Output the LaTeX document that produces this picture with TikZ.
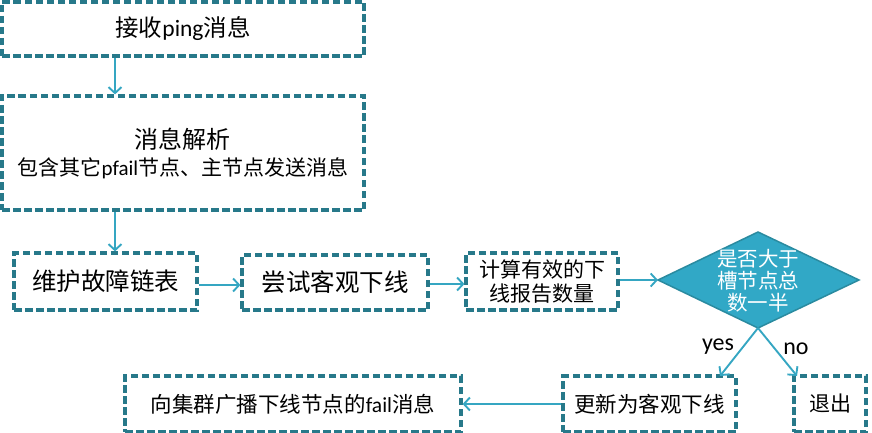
\documentclass[tikz,border=0pt]{standalone}
\usepackage{fontspec}
\setmainfont{Carlito}
\newfontfamily\cjk{Noto Sans CJK SC}
\usetikzlibrary{arrows.meta}
\definecolor{bord}{HTML}{27798A}
\definecolor{arr}{HTML}{35A6C2}
\definecolor{dfill}{HTML}{31A8C6}
\definecolor{dbord}{HTML}{2A8BA0}
\begin{document}
\begin{tikzpicture}[x=1pt,y=-1pt,
  box/.style={draw=bord, line width=3.2pt, dash pattern=on 7.5pt off 3.5pt, inner sep=0pt, align=center, text=black},
  conn/.style={draw=arr, line width=1.9pt, -{Straight Barb[length=6pt,width=13pt,line width=1.9pt]}},
  lab/.style={font=\fontsize{24}{26}\selectfont, text=black}]
\useasboundingbox (0,0) rectangle (872,433);

\node[box, font=\fontsize{23.5}{26}\selectfont, minimum width=362pt, minimum height=54pt] (b1) at (183,29) {{\cjk 接收}ping{\cjk 消息}};
\node[box, font=\fontsize{21}{27}\selectfont, minimum width=362pt, minimum height=114pt] (b2) at (183,153)
  {{\fontsize{24}{27}\selectfont\cjk 消息解析}\\{\cjk 包含其它}pfail{\cjk 节点、主节点发送消息}};
\node[box, font=\fontsize{24.5}{26}\selectfont, minimum width=183pt, minimum height=57pt] (b3) at (105.5,281.5) {\cjk 维护故障链表};
\node[box, font=\fontsize{24.5}{26}\selectfont, minimum width=186pt, minimum height=55pt] (b4) at (335,282.5) {\cjk 尝试客观下线};
\node[box, font=\fontsize{21}{24}\selectfont, minimum width=152pt, minimum height=57pt] (b5) at (542,281.5) {\cjk 计算有效的下\\\cjk 线报告数量};

\coordinate (dl) at (658,280);
\coordinate (dt) at (758,232);
\coordinate (dr) at (859,280);
\coordinate (db) at (758,328);
\draw[fill=dfill, draw=dbord, line width=1.5pt, line join=miter] (dl) -- (dt) -- (dr) -- (db) -- cycle;
\node[align=center, text=white, font=\fontsize{20.5}{22}\selectfont] (dtext) at (758,281) {\cjk 是否大于\\\cjk 槽节点总\\\cjk 数一半};

\node[box, font=\fontsize{21.5}{24}\selectfont, minimum width=173pt, minimum height=56pt] (b6) at (649.5,404) {\cjk 更新为客观下线};
\node[box, font=\fontsize{21}{24}\selectfont, minimum width=72pt, minimum height=56pt] (b7) at (830,404) {\cjk 退出};
\node[box, font=\fontsize{21.5}{24}\selectfont, minimum width=336pt, minimum height=56pt] (b8) at (293,404) {{\cjk 向集群广播下线节点的}fail{\cjk 消息}};

\draw[conn] (b1.south -| 115,0) -- (b2.north -| 115,0);
\draw[conn] (b2.south -| 115,0) -- (b3.north -| 115,0);
\draw[conn] (b3.east |- 0,285) -- (b4.west |- 0,285);
\draw[conn] (b4.east |- 0,284) -- (b5.west |- 0,284);
\draw[conn] (b5.east |- 0,280) -- (dl);
\coordinate (yesend) at (720,376);
\coordinate (noend) at (797,376);
\draw[conn] (db) -- (yesend);
\draw[conn] (db) -- (noend);
\node[lab] (yes) at (718,347) {yes};
\node[lab] (no) at (796,349) {no};
\draw[conn] (b6.west) -- (b8.east);
\end{tikzpicture}
\end{document}
